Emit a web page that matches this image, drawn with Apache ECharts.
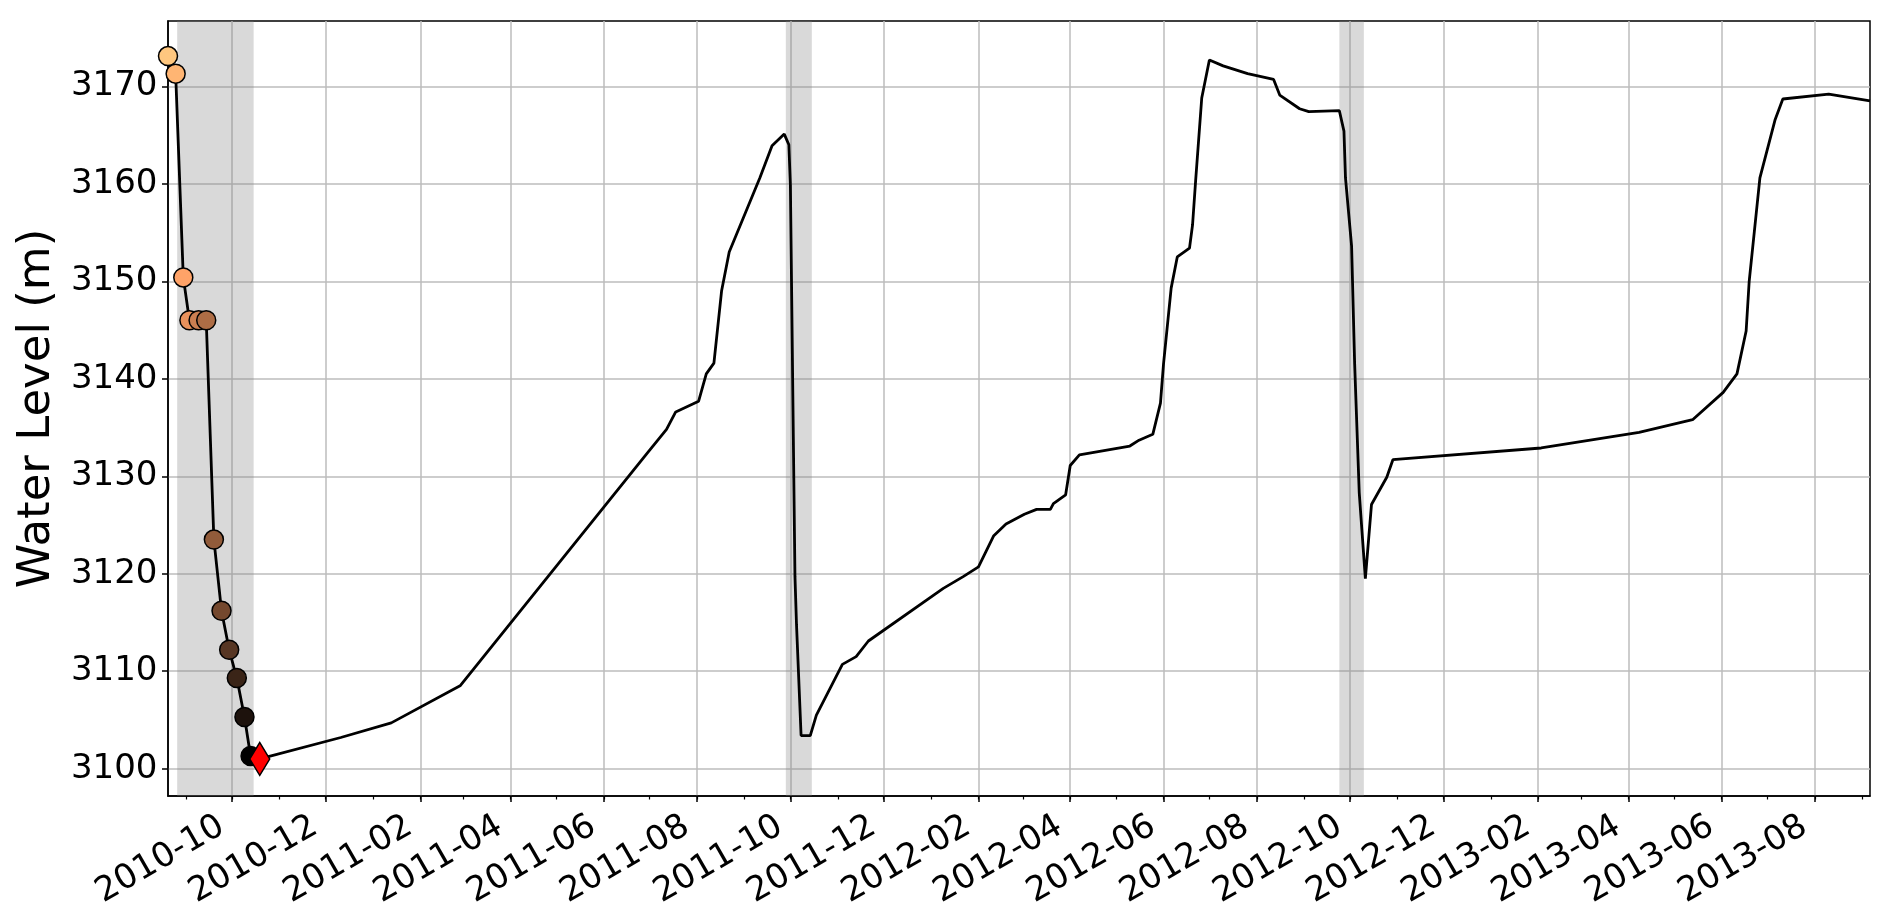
<!DOCTYPE html>
<html>
<head>
<meta charset="utf-8">
<script src="https://cdn.jsdelivr.net/npm/echarts@6/dist/echarts.min.js"></script>
<style>
html, body { margin: 0; padding: 0; background: #fff; }
#chart { width: 1892px; height: 923px; }
</style>
</head>
<body>
<div id="chart"></div>
<script>
// sampled levels during the first drawdown (coloured markers)
const sampleDates = ['2010-08-20', '2010-08-25', '2010-08-30', '2010-09-03', '2010-09-09', '2010-09-14',
  '2010-09-19', '2010-09-24', '2010-09-29', '2010-10-04', '2010-10-09', '2010-10-13'];
const sampleLevels = [3173.1, 3171.3, 3150.4, 3146.0, 3146.0, 3146.0, 3123.5, 3116.2, 3112.2, 3109.3, 3105.3, 3101.3];

// current level (red diamond)
const currentDate = '2010-10-19';
const currentLevel = 3101.0;

// rest of the water level record
const recordDates = ['2010-12-11', '2011-01-13', '2011-02-27', '2011-06-29', '2011-07-12', '2011-07-18',
  '2011-08-02', '2011-08-07', '2011-08-12', '2011-08-17', '2011-08-22', '2011-09-11', '2011-09-19',
  '2011-09-27', '2011-09-30', '2011-10-01', '2011-10-04', '2011-10-05', '2011-10-08', '2011-10-14',
  '2011-10-18', '2011-11-04', '2011-11-13', '2011-11-21', '2012-01-09', '2012-01-22', '2012-02-01',
  '2012-02-11', '2012-02-19', '2012-03-02', '2012-03-10', '2012-03-19', '2012-03-21', '2012-03-29',
  '2012-04-01', '2012-04-07', '2012-05-10', '2012-05-16', '2012-05-25', '2012-05-30', '2012-06-01',
  '2012-06-06', '2012-06-10', '2012-06-18', '2012-06-20', '2012-06-22', '2012-06-26', '2012-07-01',
  '2012-07-10', '2012-07-26', '2012-08-12', '2012-08-16', '2012-08-29', '2012-09-04', '2012-09-24',
  '2012-09-27', '2012-09-28', '2012-10-02', '2012-10-04', '2012-10-07', '2012-10-11', '2012-10-15',
  '2012-10-25', '2012-10-29', '2013-02-03', '2013-04-08', '2013-05-13', '2013-06-02', '2013-06-11',
  '2013-06-17', '2013-06-19', '2013-06-26', '2013-07-06', '2013-07-11', '2013-08-10', '2013-09-06'];
const recordLevels = [3103.2, 3104.7, 3108.5, 3132.3, 3134.8, 3136.6,
  3137.7, 3140.5, 3141.6, 3149.0, 3153.0, 3160.6, 3163.9,
  3165.1, 3164.0, 3159.9, 3119.7, 3114.8, 3103.4, 3103.4,
  3105.5, 3110.7, 3111.5, 3113.1, 3118.5, 3119.7, 3120.7,
  3123.9, 3125.1, 3126.1, 3126.6, 3126.6, 3127.2, 3128.1,
  3131.1, 3132.2, 3133.1, 3133.7, 3134.3, 3137.5, 3141.5,
  3149.3, 3152.5, 3153.4, 3155.8, 3160.3, 3168.8, 3172.7,
  3172.1, 3171.3, 3170.7, 3169.1, 3167.7, 3167.4, 3167.5,
  3165.4, 3160.6, 3153.6, 3141.5, 3128.3, 3119.5, 3127.1,
  3129.9, 3131.7, 3132.9, 3134.5, 3135.8, 3138.6, 3140.5,
  3144.9, 3150.0, 3160.6, 3166.6, 3168.7, 3169.2, 3168.5];

// shaded drawdown periods
const spanStarts = ['2010-08-26', '2011-09-28', '2012-09-24'];
const spanEnds = ['2010-10-15', '2011-10-15', '2012-10-10'];

// tick labels
const dateTicks = ['2010-10', '2010-12', '2011-02', '2011-04', '2011-06', '2011-08', '2011-10', '2011-12',
  '2012-02', '2012-04', '2012-06', '2012-08', '2012-10', '2012-12', '2013-02', '2013-04', '2013-06', '2013-08'];
const levelTicks = [3100, 3110, 3120, 3130, 3140, 3150, 3160, 3170];

const FONT = 'DejaVu Sans';
const toTime = s => {
  const p = s.split('-').map(Number);
  return Date.UTC(p[0], p[1] - 1, p[2] || 1);
};
const fmtMonth = t => {
  const d = new Date(t);
  return d.getUTCFullYear() + '-' + String(d.getUTCMonth() + 1).padStart(2, '0');
};

// matplotlib copper_r
function copperR(t) {
  const v = 1 - t;
  const r = Math.min(1, 1.25 * v), g = 0.7812 * v, b = 0.4975 * v;
  return 'rgb(' + Math.round(r * 255) + ',' + Math.round(g * 255) + ',' + Math.round(b * 255) + ')';
}

const xMin = toTime(sampleDates[0]);
const xMax = toTime(recordDates[recordDates.length - 1]);
const majorTimes = dateTicks.map(d => toTime(d));
const minorTimes = [];
for (let y = 2010; y <= 2013; y++) {
  for (let m = 1; m <= 12; m++) {
    const t = Date.UTC(y, m - 1, 1);
    if (t >= xMin && t <= xMax) minorTimes.push(t);
  }
}

const lineData = sampleDates.map((d, i) => [toTime(d), sampleLevels[i]])
  .concat([[toTime(currentDate), currentLevel]])
  .concat(recordDates.map((d, i) => [toTime(d), recordLevels[i]]));

const chart = echarts.init(document.getElementById('chart'));
const axisLineStyle = { color: '#000', width: 1.5 };
const gridLineStyle = { color: '#bcbcbc', width: 1.5 };

chart.setOption({
  animation: false,
  grid: { left: 168, right: 22, top: 21, bottom: 127, show: true, borderColor: '#000', borderWidth: 1.5, backgroundColor: 'transparent' },
  xAxis: [
    {
      type: 'value', min: xMin, max: xMax, position: 'bottom',
      axisLine: { show: true, onZero: false, lineStyle: axisLineStyle },
      axisTick: { show: true, length: 6, lineStyle: axisLineStyle, customValues: majorTimes },
      axisLabel: {
        customValues: majorTimes, rotate: 30, fontSize: 34, fontFamily: FONT, color: '#000',
        margin: 22, padding: [0, 12, 0, 0],
        formatter: fmtMonth
      },
      splitLine: { show: true, lineStyle: gridLineStyle }
    },
    {
      type: 'value', min: xMin, max: xMax, position: 'bottom',
      axisLine: { show: false, onZero: false },
      axisTick: { show: true, length: 3.5, lineStyle: { color: '#000', width: 1.2 }, customValues: minorTimes },
      axisLabel: { show: false },
      splitLine: { show: false }
    }
  ],
  yAxis: {
    type: 'value', min: 3097.2, max: 3176.7,
    name: 'Water Level (m)', nameLocation: 'middle', nameGap: 104,
    nameTextStyle: { fontSize: 45, fontFamily: FONT, color: '#000' },
    axisLine: { show: true, lineStyle: axisLineStyle },
    axisTick: { show: true, length: 6, lineStyle: axisLineStyle, customValues: levelTicks },
    axisLabel: {
      customValues: levelTicks, fontSize: 34, fontFamily: FONT, color: '#000', margin: 10.5,
      formatter: v => String(v)
    },
    splitLine: { show: true, lineStyle: gridLineStyle }
  },
  series: [
    {
      type: 'line', data: [], z: 1, silent: true,
      markArea: {
        silent: true,
        itemStyle: { color: 'rgba(128,128,128,0.3)' },
        data: spanStarts.map((s, i) => [{ xAxis: toTime(s) }, { xAxis: toTime(spanEnds[i]) }])
      }
    },
    {
      type: 'line', data: lineData, z: 3, showSymbol: false, clip: true,
      lineStyle: { color: '#000', width: 2.8 }
    },
    {
      type: 'scatter', z: 4, symbolSize: 19,
      data: sampleDates.map((d, i) => [toTime(d), sampleLevels[i]]),
      itemStyle: {
        color: p => copperR(p.dataIndex / (sampleDates.length - 1)),
        borderColor: '#000', borderWidth: 1.5, opacity: 1
      }
    },
    {
      type: 'scatter', z: 5, symbol: 'diamond', symbolSize: [20, 33],
      data: [[toTime(currentDate), currentLevel]],
      itemStyle: { color: '#ff0000', borderColor: '#000', borderWidth: 1.5, opacity: 1 }
    }
  ]
});
</script>
</body>
</html>
